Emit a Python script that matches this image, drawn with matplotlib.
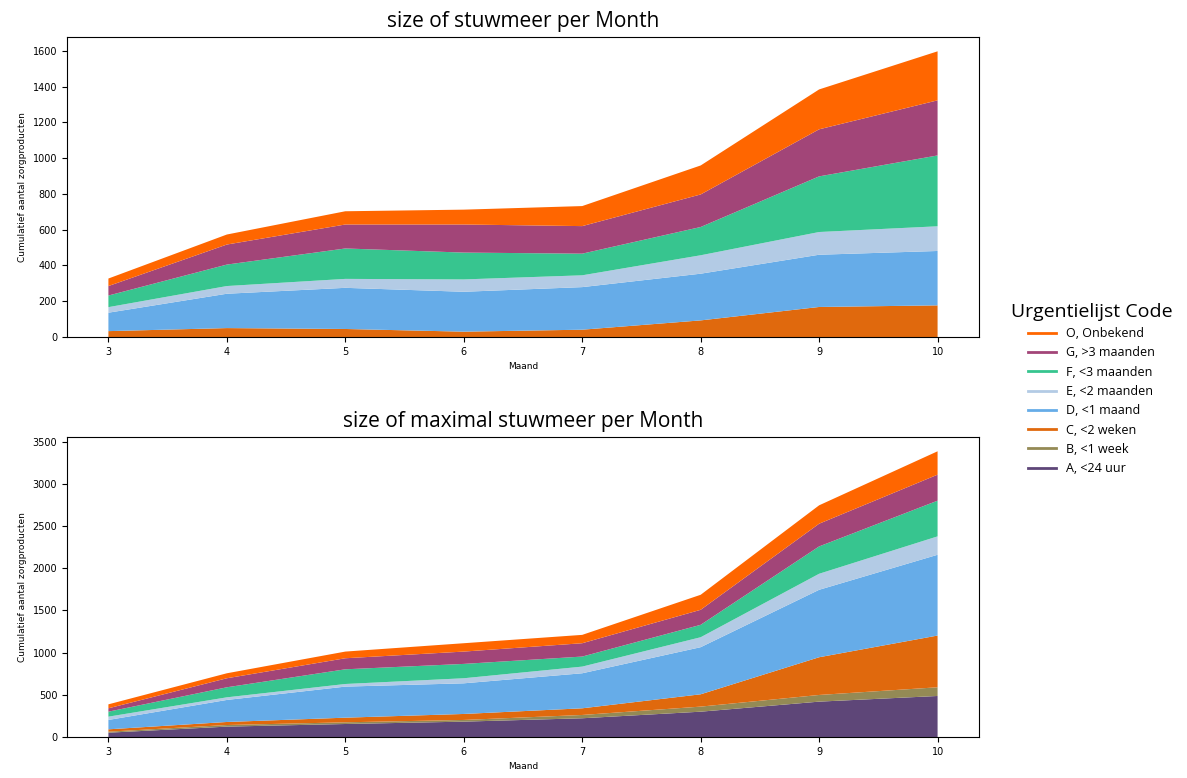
import matplotlib
matplotlib.use("Agg")
import matplotlib.pyplot as plt
from matplotlib.lines import Line2D

months = [3, 4, 5, 6, 7, 8, 9, 10]
codes = ["A, <24 uur", "B, <1 week", "C, <2 weken", "D, <1 maand",
         "E, <2 maanden", "F, <3 maanden", "G, >3 maanden", "O, Onbekend"]
colors = ["#5E4678", "#948A55", "#E0690D", "#66ACE8",
          "#B3CBE5", "#37C58F", "#A24578", "#FF6600"]

# size of stuwmeer per month (per code)
cur_A = [0, 0, 0, 0, 0, 0, 0, 0]
cur_B = [0, 0, 0, 0, 0, 0, 0, 0]
cur_C = [33, 50, 45, 30, 41, 93, 168, 177]
cur_D = [103, 192, 230, 223, 238, 261, 292, 304]
cur_E = [31, 43, 50, 69, 66, 103, 127, 138]
cur_F = [65, 120, 170, 150, 121, 158, 311, 396]
cur_G = [53, 112, 134, 157, 154, 182, 263, 308]
cur_O = [42, 56, 74, 83, 112, 162, 223, 274]

# size of maximal stuwmeer per month (per code)
max_A = [51, 123, 154, 182, 222, 300, 419, 486]
max_B = [12, 19, 20, 20, 39, 60, 79, 103]
max_C = [28, 36, 55, 71, 79, 146, 447, 613]
max_D = [111, 261, 368, 363, 415, 558, 799, 957]
max_E = [39, 31, 31, 60, 79, 118, 190, 218]
max_F = [59, 119, 174, 170, 119, 147, 324, 423]
max_G = [40, 107, 131, 146, 158, 178, 269, 308]
max_O = [47, 59, 79, 99, 99, 178, 218, 277]

fig = plt.figure(figsize=(11.87, 7.78), dpi=100)
ax1 = fig.add_axes([0.0564, 0.5668, 0.7684, 0.3856])
ax2 = fig.add_axes([0.0564, 0.0527, 0.7684, 0.3856])

title_font = ["Open Sans", "DejaVu Sans"]

def draw(ax, series, title, ticks):
    ax.stackplot(months, *series, colors=colors, labels=codes)
    ax.set_title(title, fontsize=15, family=title_font, pad=7)
    ax.set_xlabel("Maand", fontsize=6.5)
    ax.set_ylabel("Cumulatief aantal zorgproducten", fontsize=6.5)
    ax.set_xticks(months)
    ax.set_yticks(ticks)
    ax.tick_params(labelsize=7)

draw(ax1, [cur_A, cur_B, cur_C, cur_D, cur_E, cur_F, cur_G, cur_O],
     "size of stuwmeer per Month", range(0, 1601, 200))
draw(ax2, [max_A, max_B, max_C, max_D, max_E, max_F, max_G, max_O],
     "size of maximal stuwmeer per Month", range(0, 3501, 500))

handles = [Line2D([0], [0], color=c, lw=2) for c in colors][::-1]
labels = codes[::-1]
leg = fig.legend(handles, labels, loc="center left", bbox_to_anchor=(0.842, 0.5),
                 frameon=False, title="Urgentielijst Code",
                 prop={"family": title_font, "size": 9},
                 title_fontproperties={"family": title_font, "size": 14},
                 handlelength=2.2, labelspacing=0.5)

fig.savefig("out.png", dpi=100)
